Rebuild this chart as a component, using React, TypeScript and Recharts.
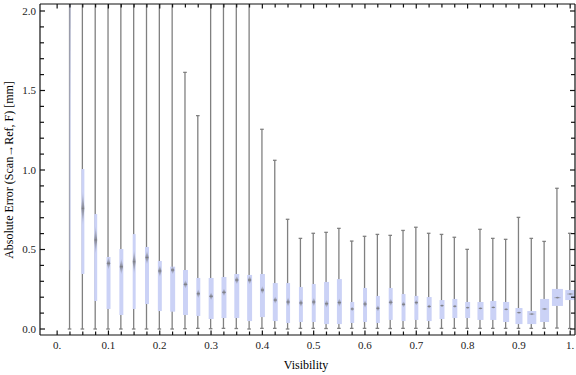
import { ComposedChart, Bar, XAxis, YAxis } from "recharts";

// box positions along the visibility axis
const visibility = [
  0.025, 0.05, 0.075, 0.1, 0.125, 0.15, 0.175, 0.2, 0.225, 0.25,
  0.275, 0.3, 0.325, 0.35, 0.375, 0.4, 0.425, 0.45, 0.475, 0.5,
  0.525, 0.55, 0.575, 0.6, 0.625, 0.65, 0.675, 0.7, 0.725, 0.75,
  0.775, 0.8, 0.825, 0.85, 0.875, 0.9, 0.925, 0.95, 0.975, 1.0,
];

const whiskerLow = [
  0, 0, 0, 0, 0, 0, 0, 0, 0, 0.002,
  0.004, 0.002, 0.004, 0.003, 0, 0.004, 0.004, 0, 0.004, 0.004,
  0.003, 0.004, 0.004, 0.004, 0.004, 0.003, 0.004, 0.004, 0.004, 0.004,
  0.004, 0.004, 0.004, 0.004, 0.004, 0.004, 0.004, 0.004, 0.006, 0.003,
];

// values above 2.04 run off the top of the frame
const whiskerHigh = [
  2.8, 2.6, 2.6, 2.6, 2.6, 2.6, 2.6, 2.6, 2.6, 1.614,
  1.342, 2.6, 2.6, 2.6, 2.6, 1.256, 1.061, 0.69, 0.57, 0.602,
  0.608, 0.633, 0.553, 0.583, 0.595, 0.589, 0.62, 0.64, 0.602, 0.595,
  0.577, 0.501, 0.627, 0.57, 0.564, 0.702, 0.57, 0.551, 0.885, 0.602,
];

const lowerQuartile = [
  0.37, 0.346, 0.176, 0.126, 0.088, 0.126, 0.157, 0.113, 0.109, 0.088,
  0.082, 0.063, 0.069, 0.069, 0.05, 0.075, 0.05, 0.038, 0.044, 0.044,
  0.031, 0.031, 0.038, 0.044, 0.038, 0.057, 0.05, 0.057, 0.05, 0.063,
  0.069, 0.069, 0.057, 0.057, 0.044, 0.031, 0.031, 0.044, 0.145, 0.182,
];

const medianError = [
  2.2, 0.759, 0.56, 0.413, 0.392, 0.423, 0.45, 0.365, 0.371, 0.281,
  0.222, 0.206, 0.231, 0.308, 0.308, 0.245, 0.182, 0.17, 0.164, 0.17,
  0.159, 0.166, 0.126, 0.157, 0.13, 0.168, 0.155, 0.166, 0.142, 0.147,
  0.143, 0.134, 0.13, 0.136, 0.124, 0.103, 0.094, 0.126, 0.197, 0.22,
];

const upperQuartile = [
  2.6, 1.006, 0.723, 0.453, 0.503, 0.597, 0.516, 0.428, 0.392, 0.371,
  0.321, 0.321, 0.327, 0.346, 0.34, 0.346, 0.289, 0.289, 0.264, 0.283,
  0.296, 0.314, 0.17, 0.258, 0.208, 0.258, 0.22, 0.208, 0.201, 0.182,
  0.189, 0.17, 0.17, 0.176, 0.17, 0.132, 0.113, 0.189, 0.252, 0.245,
];

// relative sample size of each bin (drives box width)
const sampleWeight = [
  0.09, 0.27, 0.27, 0.36, 0.36, 0.27, 0.36, 0.36, 0.45, 0.45,
  0.36, 0.45, 0.45, 0.45, 0.45, 0.45, 0.45, 0.36, 0.36, 0.36,
  0.45, 0.45, 0.36, 0.36, 0.36, 0.36, 0.36, 0.36, 0.45, 0.45,
  0.45, 0.45, 0.55, 0.55, 0.55, 0.64, 0.82, 0.82, 1.0, 0.91,
];

const xTicks = [
  0, 0.025, 0.05, 0.075, 0.1, 0.125, 0.15, 0.175, 0.2, 0.225, 0.25,
  0.275, 0.3, 0.325, 0.35, 0.375, 0.4, 0.425, 0.45, 0.475, 0.5,
  0.525, 0.55, 0.575, 0.6, 0.625, 0.65, 0.675, 0.7, 0.725, 0.75,
  0.775, 0.8, 0.825, 0.85, 0.875, 0.9, 0.925, 0.95, 0.975, 1.0,
];
const xLabelTicks = [0, 0.1, 0.2, 0.3, 0.4, 0.5, 0.6, 0.7, 0.8, 0.9, 1.0];
const xLabels = ["0.", "0.1", "0.2", "0.3", "0.4", "0.5", "0.6", "0.7", "0.8", "0.9", "1."];

const yTicks = [
  0, 0.1, 0.2, 0.3, 0.4, 0.5, 0.6, 0.7, 0.8, 0.9, 1.0,
  1.1, 1.2, 1.3, 1.4, 1.5, 1.6, 1.7, 1.8, 1.9, 2.0,
];
const yLabelTicks = [0, 0.5, 1.0, 1.5, 2.0];
const yLabels = ["0.0", "0.5", "1.0", "1.5", "2.0"];

const X_DOMAIN = [-0.0334, 1.0094];
const Y_DOMAIN = [-0.0377, 2.044];

const rows = visibility.map((v, i) => ({
  v,
  whisker: [whiskerLow[i], whiskerHigh[i]],
  box: [lowerQuartile[i], upperQuartile[i]],
  q1: lowerQuartile[i],
  q3: upperQuartile[i],
  median: medianError[i],
  weight: sampleWeight[i],
}));

const FONT = "'Liberation Serif', 'DejaVu Serif', serif";
const MAX_BOX = 11;
const FRAME = "#111";

const labelIndex = (v: number, list: number[]) =>
  list.findIndex((t) => Math.abs(t - v) < 1e-6);

function BottomTick(props: any) {
  const { x, y, payload } = props;
  const idx = labelIndex(payload.value, xLabelTicks);
  return (
    <g>
      <line x1={x} x2={x} y1={y} y2={y - (idx >= 0 ? 4.5 : 3.5)} stroke={FRAME} strokeWidth={1.2} />
      {idx >= 0 && (
        <text x={x} y={y + 14} textAnchor="middle" fontFamily={FONT} fontSize={11} fill="#222">
          {xLabels[idx]}
        </text>
      )}
    </g>
  );
}

function TopTick(props: any) {
  const { x, y, payload } = props;
  const idx = labelIndex(payload.value, xLabelTicks);
  return (
    <g>
      <line x1={x} x2={x} y1={y} y2={y + (idx >= 0 ? 4.5 : 3.5)} stroke={FRAME} strokeWidth={1.2} />
    </g>
  );
}

function LeftTick(props: any) {
  const { x, y, payload } = props;
  const idx = labelIndex(payload.value, yLabelTicks);
  return (
    <g>
      <line x1={x} x2={x + (idx >= 0 ? 5 : 4)} y1={y} y2={y} stroke={FRAME} strokeWidth={1.2} />
      {idx >= 0 && (
        <text x={x - 4} y={y + 3.6} textAnchor="end" fontFamily={FONT} fontSize={11} fill="#222">
          {yLabels[idx]}
        </text>
      )}
    </g>
  );
}

function RightTick(props: any) {
  const { x, y, payload } = props;
  const idx = labelIndex(payload.value, yLabelTicks);
  return (
    <g>
      <line x1={x} x2={x - (idx >= 0 ? 5 : 4)} y1={y} y2={y} stroke={FRAME} strokeWidth={1.2} />
    </g>
  );
}

function WhiskerShape(props: any) {
  const { x, y, width, height } = props;
  if (x == null || y == null) return null;
  const cx = x + width / 2;
  const top = Math.min(y, y + height);
  const bottom = Math.max(y, y + height);
  return (
    <g stroke="#808080" strokeWidth={1.3}>
      <line x1={cx} x2={cx} y1={top} y2={bottom} />
      <line x1={cx - 1.8} x2={cx + 1.8} y1={top} y2={top} />
      <line x1={cx - 1.8} x2={cx + 1.8} y1={bottom} y2={bottom} />
    </g>
  );
}

function BoxShape(props: any) {
  const { x, y, width, height, payload, index } = props;
  if (x == null || y == null) return null;
  const cx = x + width / 2;
  const w = Math.max(1, payload.weight * MAX_BOX);
  const top = Math.min(y, y + height);
  const h = Math.abs(height);
  // median sits inside the quartile range, so place it along the box
  const medY = top + ((payload.q3 - payload.median) / (payload.q3 - payload.q1)) * h;
  const hh = Math.min(h / 2, Math.max(1.6, (0.5 * h) / w));
  const hw = Math.min(1.7, w / 2);
  const id = `med-grad-${index}`;
  return (
    <g>
      <defs>
        <linearGradient id={id} x1="0" y1="0" x2="0" y2="1">
          <stop offset="0%" stopColor="#707070" stopOpacity={0} />
          <stop offset="50%" stopColor="#626262" stopOpacity={0.65} />
          <stop offset="100%" stopColor="#707070" stopOpacity={0} />
        </linearGradient>
      </defs>
      <rect x={cx - w / 2} y={top} width={w} height={h} fill="#cbd2f6" />
      <line
        x1={cx - Math.min(w * 0.3, 3)}
        x2={cx + Math.min(w * 0.3, 3)}
        y1={medY}
        y2={medY}
        stroke="#8a8a8a"
        strokeOpacity={0.55}
        strokeWidth={1}
      />
      <polygon
        points={`${cx},${medY - hh} ${cx + hw},${medY} ${cx},${medY + hh} ${cx - hw},${medY}`}
        fill={`url(#${id})`}
      />
    </g>
  );
}

export default function App() {
  return (
    <div style={{ position: "absolute", left: 0, top: 0, width: 576, height: 375, background: "#fff" }}>
      <ComposedChart width={576} height={375} data={rows} margin={{ top: 0, right: 0, bottom: 0, left: 0 }}>
        <XAxis
          xAxisId="bottom"
          dataKey="v"
          type="number"
          domain={X_DOMAIN}
          allowDataOverflow
          ticks={xTicks}
          interval={0}
          height={40}
          tickSize={0}
          tickMargin={0}
          tickLine={false}
          axisLine={{ stroke: FRAME, strokeWidth: 1.2 }}
          tick={BottomTick}
        />
        <XAxis
          xAxisId="top"
          orientation="top"
          dataKey="v"
          type="number"
          domain={X_DOMAIN}
          allowDataOverflow
          ticks={xTicks}
          interval={0}
          height={4}
          tickSize={0}
          tickMargin={0}
          tickLine={false}
          axisLine={{ stroke: FRAME, strokeWidth: 1.2 }}
          tick={TopTick}
        />
        <YAxis
          yAxisId="left"
          type="number"
          domain={Y_DOMAIN}
          allowDataOverflow
          ticks={yTicks}
          interval={0}
          width={40}
          tickSize={0}
          tickMargin={0}
          tickLine={false}
          axisLine={{ stroke: FRAME, strokeWidth: 1.2 }}
          tick={LeftTick}
        />
        <YAxis
          yAxisId="right"
          orientation="right"
          type="number"
          domain={Y_DOMAIN}
          allowDataOverflow
          ticks={yTicks}
          interval={0}
          width={1}
          tickSize={0}
          tickMargin={0}
          tickLine={false}
          axisLine={{ stroke: FRAME, strokeWidth: 1.2 }}
          tick={RightTick}
        />
        <Bar
          xAxisId="bottom"
          yAxisId="left"
          dataKey="whisker"
          barSize={4}
          shape={<WhiskerShape />}
          isAnimationActive={false}
        />
        <Bar
          xAxisId="top"
          yAxisId="left"
          dataKey="box"
          barSize={MAX_BOX}
          shape={<BoxShape />}
          isAnimationActive={false}
        />
      </ComposedChart>
      <svg
        width={576}
        height={375}
        style={{ position: "absolute", left: 0, top: 0, pointerEvents: "none" }}
      >
        <text x={306} y={369} textAnchor="middle" fontFamily={FONT} fontSize={12} fill="#000">
          Visibility
        </text>
        <text
          x={12.5}
          y={170}
          transform="rotate(-90, 12.5, 170)"
          textAnchor="middle"
          fontFamily={FONT}
          fontSize={12}
          fill="#000"
        >
          Absolute Error (Scan{"\u2192"}Ref, F) [mm]
        </text>
      </svg>
    </div>
  );
}
